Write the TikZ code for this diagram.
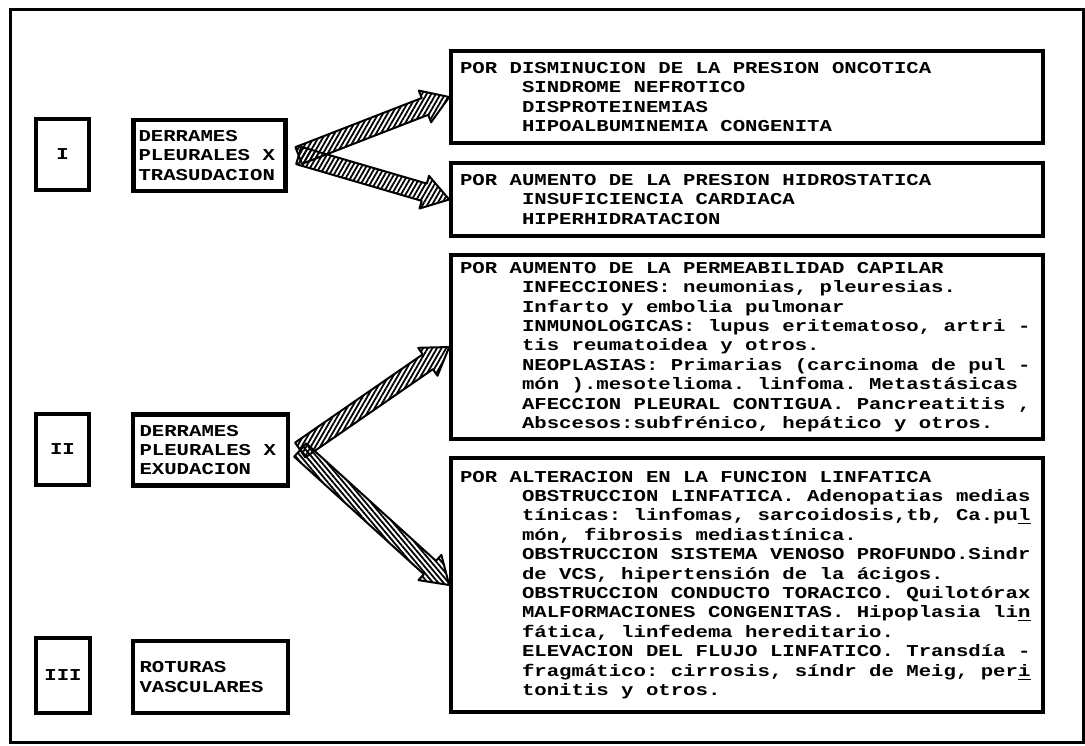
\documentclass[tikz,border=0pt]{standalone}
\usepackage{fontspec}
\setmonofont{Liberation Mono}[FakeStretch=1.245]
\usetikzlibrary{calc,positioning,patterns.meta}

% letra de maquina de escribir
\newcommand{\typewr}{\fontsize{8.3pt}{9.7pt}\selectfont\ttfamily\bfseries\frenchspacing\lineskiplimit=-5pt\relax}
\newcommand{\ind}{\phantom{MMMMM}}
% espacio fijo de maquina
\newcommand{\fixspace}{\spaceskip=\fontcharwd\font`M\relax\xspaceskip=\spaceskip}

\tikzset{
  frame/.style={line width=1.5pt},
  numbox/.style={draw, line width=2.2pt, minimum width=26.5pt, minimum height=35.5pt, inner sep=0pt, font=\typewr},
  causebox/.style={draw, line width=2.2pt, align=left, text width=71pt, inner xsep=2.5pt, inner ysep=0pt, minimum height=35.5pt, font=\typewr, execute at begin node=\fixspace},
  listbox/.style={draw, line width=1.8pt, align=left, text width=287pt, inner xsep=4.5pt, inner ysep=0pt, font=\typewr, execute at begin node=\fixspace},
  fat/.style={draw=black, line width=1pt, line join=round, pattern={Lines[angle=60,distance=2pt,line width=0.9pt]}},
}

% flecha gruesa rayada de #2 a #3
\newcommand{\fatarrow}[3][]{%
  \coordinate (fa-h) at ($(#3)!13pt!(#2)$);
  \path[fat,#1] ($(#2)!4.5pt!90:(#3)$) -- ($(fa-h)!4.5pt!-90:(#2)$) -- ($(fa-h)!8.5pt!-90:(#2)$) -- (#3)
    -- ($(fa-h)!8.5pt!90:(#2)$) -- ($(fa-h)!4.5pt!90:(#2)$) -- ($(#2)!4.5pt!-90:(#3)$) -- cycle;
}

\begin{document}
\begin{tikzpicture}[x=0.5pt,y=-0.5pt]
  \useasboundingbox (0,0) rectangle (1085,745);
  % marco exterior
  \draw[frame] (10,9.5) rectangle (1083,742);

  % numeros
  \node[numbox] (n1) at (62.5,154.5) {I};
  \node[numbox] (n2) at (62.5,449.5) {II};
  \node[numbox, minimum width=27pt, minimum height=37.5pt] (n3) at (63,675.5) {III};

  % tipos de derrame
  \node[causebox] (der1) at (209.5,155.5) {DERRAMES\\PLEURALES X\\TRASUDACION};
  \node[causebox, minimum width=77.5pt] (der2) at (210.5,450) {DERRAMES\\PLEURALES X\\EXUDACION};
  \node[causebox, minimum width=77.5pt, minimum height=36pt] (der3) at (210.5,677) {ROTURAS\\VASCULARES};

  % mecanismos
  \node[listbox, minimum height=46pt] (b1) at (747,97) {%
    POR DISMINUCION DE LA PRESION ONCOTICA\\
    \ind SINDROME NEFROTICO\\
    \ind DISPROTEINEMIAS\\
    \ind HIPOALBUMINEMIA CONGENITA};
  \node[listbox, minimum height=36.5pt] (b2) at (747,199.5) {%
    POR AUMENTO DE LA PRESION HIDROSTATICA\\
    \ind INSUFICIENCIA CARDIACA\\
    \ind HIPERHIDRATACION};
  \node[listbox, minimum height=92pt] (b3) at (747,347) {%
    POR AUMENTO DE LA PERMEABILIDAD CAPILAR\\
    \ind INFECCIONES: neumonias, pleuresias.\\
    \ind Infarto y embolia pulmonar\\
    \ind INMUNOLOGICAS: lupus eritematoso, artri -\\
    \ind tis reumatoidea y otros.\\
    \ind NEOPLASIAS: Primarias (carcinoma de pul -\\
    \ind món ).mesotelioma. linfoma. Metastásicas\\
    \ind AFECCION PLEURAL CONTIGUA. Pancreatitis ,\\
    \ind Abscesos:subfrénico, hepático y otros.};
  \node[listbox, minimum height=127pt] (b4) at (747,585) {%
    POR ALTERACION EN LA FUNCION LINFATICA\\
    \ind OBSTRUCCION LINFATICA. Adenopatias medias\\
    \ind tínicas: linfomas, sarcoidosis,tb, Ca.pu\underline{l}\\
    \ind món, fibrosis mediastínica.\\
    \ind OBSTRUCCION SISTEMA VENOSO PROFUNDO.Sindr\\
    \ind de VCS, hipertensión de la ácigos.\\
    \ind OBSTRUCCION CONDUCTO TORACICO. Quilotórax\\
    \ind MALFORMACIONES CONGENITAS. Hipoplasia li\underline{n}\\
    \ind fática, linfedema hereditario.\\
    \ind ELEVACION DEL FLUJO LINFATICO. Transdía -\\
    \ind fragmático: cirrosis, síndr de Meig, per\underline{i}\\
    \ind tonitis y otros.};

  % flechas
  \coordinate (j1) at ($(der1.east)+(11,0)$);
  \coordinate (j2) at ($(der2.east)+(10,0)$);
  \fatarrow{j1}{b1.west}
  \fatarrow{j1}{b2.west}
  \fatarrow{j2}{b3.west}
  \fatarrow[pattern={Lines[angle=-50,distance=2pt,line width=0.9pt]}]{j2}{b4.west}
\end{tikzpicture}
\end{document}
